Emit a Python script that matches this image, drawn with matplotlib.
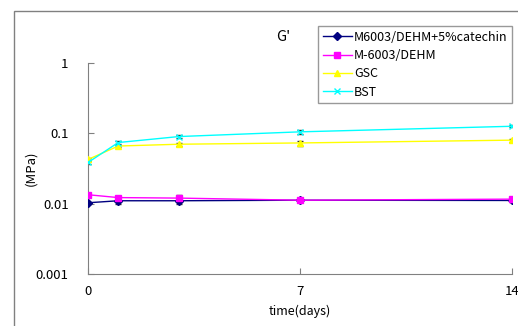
#G' (storage modulus) vs. time, log scale
import matplotlib
matplotlib.use("Agg")
import matplotlib.pyplot as plt
from matplotlib.patches import Rectangle
from matplotlib.ticker import FixedLocator, FixedFormatter, NullLocator

plt.rcParams['font.family'] = ['Noto Sans CJK JP', 'DejaVu Sans']

days = [0, 1, 3, 7, 14]

catechin = [0.0103, 0.0110, 0.0110, 0.0112, 0.0111]
catechin_err = [0.0003, 0.0012, 0.0012, 0.0004, 0.0006]
m6003 = [0.0134, 0.0122, 0.0120, 0.0112, 0.0116]
m6003_err = [0.0003, 0.0004, 0.0014, 0.0004, 0.0008]
gsc = [0.0425, 0.066, 0.070, 0.073, 0.080]
gsc_err = [0.002, 0.003, 0.003, 0.006, 0.004]
bst = [0.0385, 0.074, 0.090, 0.105, 0.126]
bst_err = [0.002, 0.004, 0.004, 0.008, 0.004]

labels = ["M6003/DEHM+5%catechin", "M-6003/DEHM", "GSC", "BST"]
ytick_vals = [0.001, 0.01, 0.1, 1]
ytick_labels = ["0.001", "0.01", "0.1", "1"]
xtick_vals = [0, 7, 14]

fig = plt.figure(figsize=(5.18, 3.26), dpi=100)

#outer chart border (right and bottom are cut off in the original)
fig.patches.append(Rectangle((14 / 518, -0.1), 1.2, 1 - 11 / 326 + 0.1,
                             transform=fig.transFigure, fill=False,
                             edgecolor="#808080", linewidth=1.0))

ax = fig.add_axes([88 / 518, 52 / 326, 424 / 518, 211 / 326])

series = [(catechin, catechin_err, "#000080", "D", 4),
          (m6003, m6003_err, "#FF00FF", "s", 5),
          (gsc, gsc_err, "#FFFF00", "^", 5),
          (bst, bst_err, "#00FFFF", "x", 5)]

for (vals, err, col, mk, ms), lab in zip(series, labels):
	ax.errorbar(days, vals, yerr=err, ecolor="#333333", elinewidth=1.0, capsize=2.5,
	            capthick=1.0, fmt="none", zorder=2)
	ax.plot(days, vals, color=col, marker=mk, markersize=ms, linewidth=1.0,
	        markeredgewidth=1.0, label=lab, zorder=3)

ax.set_yscale("log")
ax.set_ylim(0.001, 1)
ax.set_xlim(0, 14)
ax.yaxis.set_major_locator(FixedLocator(ytick_vals))
ax.yaxis.set_major_formatter(FixedFormatter(ytick_labels))
ax.yaxis.set_minor_locator(NullLocator())
ax.set_xticks(xtick_vals)

for side in ["top", "right"]:
	ax.spines[side].set_visible(False)
for side in ["left", "bottom"]:
	ax.spines[side].set_color("#808080")
ax.tick_params(direction="in", length=4, color="#808080", labelsize=9.5)
ax.tick_params(axis="y", pad=14)
ax.tick_params(axis="x", pad=8)

ax.set_xlabel("time(days)", fontsize=9, labelpad=5)
ax.set_ylabel("(MPa)", fontsize=9.5)
ax.yaxis.set_label_coords(-51 / 424, 0.5)

fig.text(283 / 518, 1 - 37 / 326, "G'", fontsize=10.5, ha="center", va="center")

leg = ax.legend(loc="upper left", bbox_to_anchor=(318 / 518, 1 - 101 / 326, 194 / 518, 75 / 326),
                bbox_transform=fig.transFigure, mode="expand", fontsize=9,
                frameon=True, fancybox=False, handlelength=2.3, handletextpad=0.2,
                borderaxespad=0, labelspacing=0.42, borderpad=0.38)
leg.get_frame().set_edgecolor("#808080")
leg.get_frame().set_linewidth(1.0)

plt.savefig("out.png", dpi=100)
plt.close()
